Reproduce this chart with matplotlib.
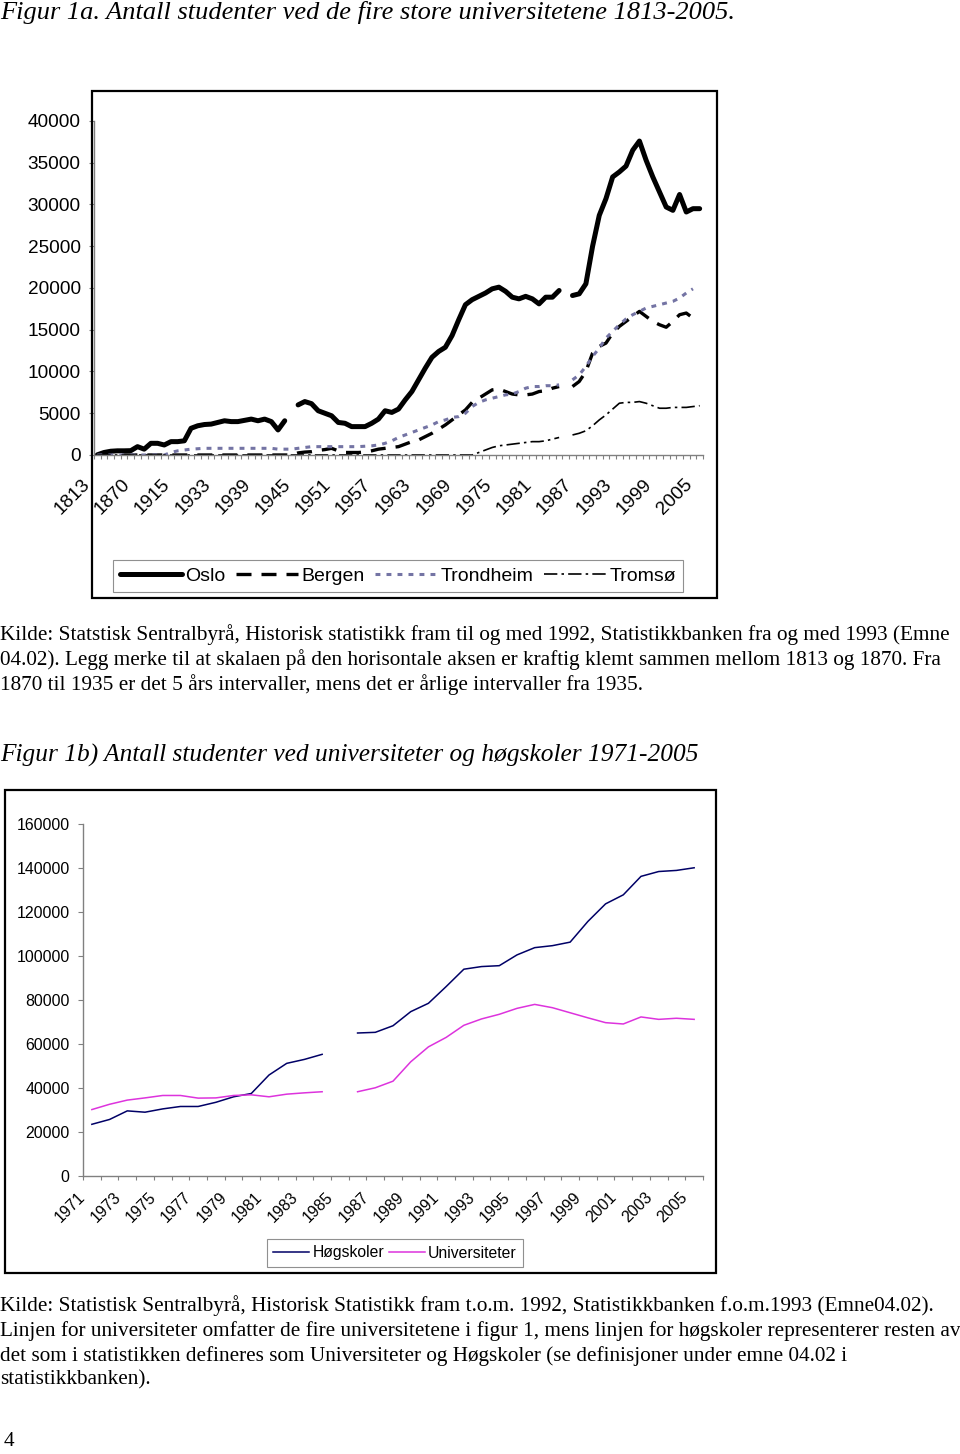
import numpy as np
import matplotlib
matplotlib.use("Agg")
import matplotlib.pyplot as plt
from matplotlib.patches import Rectangle
from matplotlib.transforms import ScaledTranslation

plt.rcParams['font.family'] = ['Liberation Sans', 'DejaVu Sans']

# --- data: figur 1a (kategoriakse, 91 kategorier) ---
early_years = [1813, 1820, 1830, 1840, 1850, 1860, 1870, 1875, 1880, 1890,
               1900, 1910, 1915, 1920, 1925, 1930, 1931, 1932]
years_a = early_years + list(range(1933, 2006))
label_every = 6

nan = np.nan
oslo = [20, 300, 450, 500, 500, 520, 1000, 700, 1400, 1400,
        1200, 1600, 1600, 1700, 3200, 3500, 3650, 3700, 3900, 4100,
        4000, 4000, 4150, 4300, 4100, 4300, 4000, 3000, 4100, nan,
        6000, 6400, 6150, 5300, 5000, 4700, 3900, 3800, 3400, 3400,
        3400, 3800, 4300, 5300, 5100, 5500, 6600, 7600, 9000, 10400,
        11700, 12400, 12900, 14300, 16200, 18000, 18600, 19000, 19400, 19900,
        20100, 19600, 18900, 18700, 19000, 18700, 18100, 18900, 18900, 19700,
        nan, 19100, 19300, 20500, 25000, 28700, 30700, 33300, 33900, 34600,
        36500, 37600, 35300, 33300, 31500, 29700, 29300, 31200, 29100, 29500,
        29500]
bergen = [0] * 30 + [250, 350, 400, 550, 650, 800, 500, 300, 300, 300,
                     350, 500, 700, 800, 900, 1000, 1300, 1600, 1800, 2200,
                     2600, 3100, 3600, 4200, 4800, 5400, 6300, 6800, 7300, 7800,
                     7900, 7600, 7300, 7200, 7200, 7300, 7600, 7700, 8000, 8200,
                     nan, 8200, 8800, 10000, 12200, 13000, 13400, 14600, 15400, 16000,
                     16600, 17200, 16600, 16000, 15600, 15300, 16000, 16800, 17000, 16400,
                     nan]
trondheim = [0] * 11 + [300, 500, 600, 700, 750, 800, 800, 800,
                        800, 800, 800, 800, 800, 800, 800, 800, 700, 700, 700,
                        800, 900, 1000, 1000, 1000, 1000, 1000, 1000, 1000, 1000,
                        1050, 1100, 1200, 1400, 1700, 2100, 2400, 2700, 3000, 3300,
                        3600, 4000, 4200, 4500, 4600, 5000, 5800, 6300, 6600, 6800,
                        7000, 7200, 7300, 7600, 8000, 8200, 8200, 8300, 8300, 8400,
                        nan, 9000, 9600, 10600, 11800, 12800, 14000, 14800, 15600, 16300,
                        16800, 17200, 17600, 17800, 18000, 18200, 18400, 18800, 19400, 19900,
                        nan]
tromso = [0] * 57 + [300, 600, 900, 1100, 1200, 1300, 1400, 1500, 1600, 1600,
                     1700, 1900, 2100, nan, 2400, 2600, 2900, 3500, 4200, 4800,
                     5500, 6200, 6300, 6300, 6400, 6200, 5900, 5600, 5600, 5700,
                     5700, 5700, 5800, 5900]

# --- data: figur 1b ---
years_b = list(range(1971, 2006))
hogskoler = [23500, 25700, 29600, 29000, 30500, 31600, 31600, 33500, 36000, 37500,
             45900, 51200, 53000, 55300, nan, 65000, 65300, 68300, 74700, 78500,
             86100, 94000, 95200, 95600, 100500, 103800, 104700, 106300, 115700, 123700,
             127800, 136200, 138400, 138900, 140100]
universiteter = [30200, 32600, 34500, 35500, 36600, 36600, 35400, 35500, 36600, 36900,
                 36000, 37200, 37800, 38300, nan, 38300, 40100, 43100, 51900, 58700,
                 63000, 68500, 71400, 73500, 76200, 78000, 76500, 74200, 71900, 69700,
                 69100, 72300, 71200, 71700, 71200]

W, H = 960, 1454
fig = plt.figure(figsize=(W / 100, H / 100), dpi=100)


def px_box(x0, y0, x1, y1):
    return [x0 / W, 1 - y1 / H, (x1 - x0) / W, (y1 - y0) / H]


def ftext(x, y, s, **kw):
    fig.text(x / W, 1 - y / H, s, **kw)


def frame(x0, y0, x1, y1):
    fig.add_artist(Rectangle((x0 / W, 1 - y1 / H), (x1 - x0) / W, (y1 - y0) / H,
                             transform=fig.transFigure, fill=False,
                             ec='black', lw=1.6))


def style_axes(ax, n, ymax, ystep, fs, labels, lab_dx, lab_dy):
    grey = '#808080'
    for s in ['top', 'right']:
        ax.spines[s].set_visible(False)
    for s in ['left', 'bottom']:
        ax.spines[s].set_color(grey)
        ax.spines[s].set_linewidth(1.0)
    ax.set_xlim(-0.5, n - 0.5)
    ax.set_ylim(0, ymax)
    ax.set_yticks(np.arange(0, ymax + 1, ystep))
    ax.set_yticklabels([str(int(v)) for v in np.arange(0, ymax + 1, ystep)])
    ax.tick_params(axis='y', direction='out', length=3.6, width=0.8, color=grey,
                   labelsize=fs, pad=6)
    ax.set_xticks([])
    ax.set_xticks(np.arange(-0.5, n, 1), minor=True)
    ax.tick_params(axis='x', which='minor', direction='out', length=3, width=0.8,
                   color=grey)
    off = ScaledTranslation(lab_dx / 100, lab_dy / 100, fig.dpi_scale_trans)
    trans = ax.get_xaxis_transform() + off
    for i, lab in labels:
        ax.text(i, 0, str(lab), transform=trans, rotation=45, ha='right',
                va='center', rotation_mode='anchor', fontsize=fs)


# ---------- Figur 1a ----------
ftext(0, 19, "Figur 1a. Antall studenter ved de fire store universitetene 1813-2005.",
      family='Liberation Serif', style='italic', fontsize=19, va='baseline')

frame(92, 91, 717, 598)
ax1 = fig.add_axes(px_box(94, 121, 703, 455))
xa = np.arange(len(years_a))
ax1.plot(xa, oslo, color='black', lw=3.6, solid_joinstyle='round',
         solid_capstyle='round', label='Oslo')
ax1.plot(xa, bergen, color='black', lw=2.4, dashes=(4.5, 3), label='Bergen')
ax1.plot(xa, trondheim, color='#7474a4', lw=2.2, dashes=(1.6, 2.0),
         label='Trondheim')
ax1.plot(xa, tromso, color='black', lw=1.2, dashes=(8, 2.5, 1.5, 2.5),
         label='Tromsø')
style_axes(ax1, len(years_a), 40000, 5000, 13.7,
           [(i, years_a[i]) for i in range(0, len(years_a), label_every)],
           -10, -27)
leg1 = ax1.legend(loc='center', bbox_to_anchor=(398 / W, 1 - 576 / H),
                  bbox_transform=fig.transFigure, ncol=4, fontsize=14,
                  frameon=True, fancybox=False, edgecolor='#909090',
                  framealpha=1, handlelength=3.2, handletextpad=0.15,
                  columnspacing=0.55, borderpad=0.35)
leg1.get_frame().set_linewidth(0.8)

serif = dict(family='Liberation Serif', fontsize=15.3, va='center')
ftext(0, 635, "Kilde: Statstisk Sentralbyrå, Historisk statistikk fram til og med 1992, "
      "Statistikkbanken fra og med 1993 (Emne", **serif)
ftext(0, 660, "04.02). Legg merke til at skalaen på den horisontale aksen er kraftig "
      "klemt sammen mellom 1813 og 1870. Fra", **serif)
ftext(0, 685, "1870 til 1935 er det 5 års intervaller, mens det er årlige intervaller "
      "fra 1935.", **serif)

# ---------- Figur 1b ----------
ftext(0, 755, "Figur 1b) Antall studenter ved universiteter og høgskoler 1971-2005",
      family='Liberation Serif', style='italic', fontsize=18.3, va='center')

frame(5, 790, 716, 1273)
ax2 = fig.add_axes(px_box(83, 824, 703, 1176))
xb = np.arange(len(years_b))
ax2.plot(xb, hogskoler, color='#000066', lw=1.1, label='Høgskoler')
ax2.plot(xb, universiteter, color='#dd33dd', lw=1.1, label='Universiteter')
style_axes(ax2, len(years_b), 160000, 20000, 11.4,
           [(i, years_b[i]) for i in range(0, len(years_b), 2)],
           -9, -19)
leg2 = ax2.legend(loc='center', bbox_to_anchor=(395 / W, 1 - 1253 / H),
                  bbox_transform=fig.transFigure, ncol=2, fontsize=11.3,
                  frameon=True, fancybox=False, edgecolor='#909090',
                  framealpha=1, handlelength=2.3, handletextpad=0.2,
                  columnspacing=0.3, borderpad=0.4)
leg2.get_frame().set_linewidth(0.8)

ftext(0, 1306, "Kilde: Statistisk Sentralbyrå, Historisk Statistikk fram t.o.m. 1992, "
      "Statistikkbanken f.o.m.1993 (Emne04.02).", **serif)
ftext(0, 1331, "Linjen for universiteter omfatter de fire universitetene i figur 1, mens "
      "linjen for høgskoler representerer resten av", **serif)
ftext(0, 1356, "det som i statistikken defineres som Universiteter og Høgskoler (se "
      "definisjoner under emne 04.02 i", **serif)
ftext(0, 1380, "statistikkbanken).", **serif)

ftext(4, 1441, "4", family='Liberation Serif', fontsize=15.3, va='center')

fig.savefig('out.png', dpi=100)
